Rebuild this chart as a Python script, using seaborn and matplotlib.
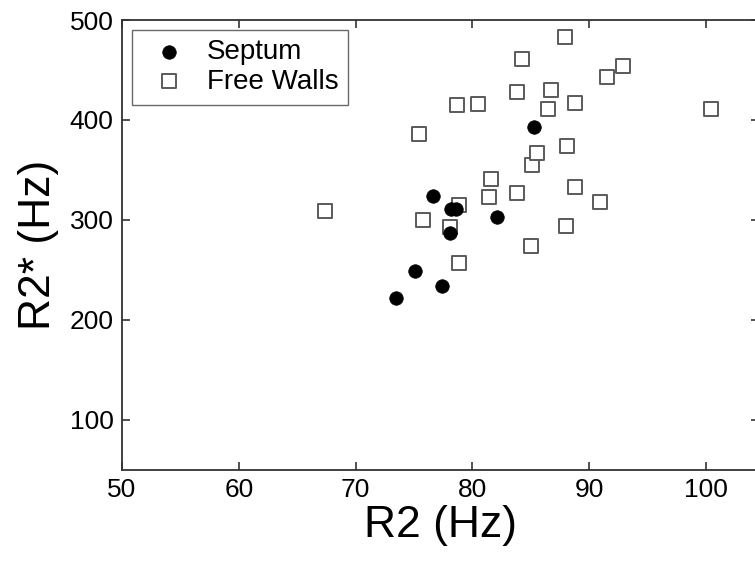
import numpy as np
import pandas as pd
import matplotlib
matplotlib.use("Agg")
import matplotlib.pyplot as plt
import seaborn as sns

# values
septum_r2 = [73.5, 75.1, 76.65, 77.4, 78.1, 78.2, 78.6, 82.1, 85.3]
septum_r2s = [221.7, 249, 324.3, 233.3, 286.7, 310.7, 310.7, 302.3, 393]

free_r2 = [67.4, 78.9, 75.8, 78.1, 78.9, 81.6, 81.45, 83.85, 85.1, 85.0,
           85.5, 88.8, 90.9, 88.0, 87.9, 84.25, 92.9, 91.55, 83.8, 86.7,
           78.7, 80.5, 86.5, 88.8, 100.4, 75.4, 88.1]
free_r2s = [308.3, 315, 299.3, 292.3, 256.7, 340.7, 323.3, 327, 355, 273.3,
            366.5, 332.7, 317.7, 294, 482.7, 460.7, 454.3, 443, 428, 429.7,
            415.3, 416, 411, 417, 411, 385.7, 374]

sep = pd.DataFrame({"R2": septum_r2, "R2s": septum_r2s})
free = pd.DataFrame({"R2": free_r2, "R2s": free_r2s})

sns.set_style("ticks")
plt.rcParams["font.family"] = ["Liberation Sans", "DejaVu Sans"]
plt.rcParams["text.color"] = "black"
plt.rcParams["axes.labelcolor"] = "black"

fig = plt.figure(figsize=(7.55, 5.62), dpi=100)
# axes reach a little past the right edge, like the cropped original
ax = fig.add_axes([122 / 755, 1 - 469.5 / 562, 637 / 755, 449.5 / 562])

sns.scatterplot(data=sep, x="R2", y="R2s", marker="o", s=95, color="black",
                edgecolor="black", linewidth=0.5, label="Septum", ax=ax, zorder=3)
sns.scatterplot(data=free, x="R2", y="R2s", marker="s", s=95, facecolor="white",
                edgecolor="#5a5a5a", linewidth=1.4, label="Free Walls", ax=ax, zorder=2)

ax.set_xlim(50, 104.55)
ax.set_ylim(50, 500)
ax.set_xticks([50, 60, 70, 80, 90, 100])
ax.set_yticks([100, 200, 300, 400, 500])

for s in ax.spines.values():
    s.set_visible(True)
    s.set_color("#333333")
    s.set_linewidth(1.3)

ax.tick_params(direction="in", length=6, width=1.2, color="#333333",
               labelcolor="black", top=True, right=True, labelsize=19, pad=6)
ax.set_xlabel("R2 (Hz)", fontsize=32, labelpad=2)
ax.set_ylabel("R2* (Hz)", fontsize=32, labelpad=8)

leg = ax.legend(loc="upper left", fontsize=20, frameon=True, fancybox=False,
                edgecolor="#444444", borderpad=0.35, handlelength=2.0,
                handletextpad=0.35, borderaxespad=0.35, labelspacing=0.12)
leg.get_frame().set_linewidth(1.0)

fig.savefig("out.png", dpi=100)
